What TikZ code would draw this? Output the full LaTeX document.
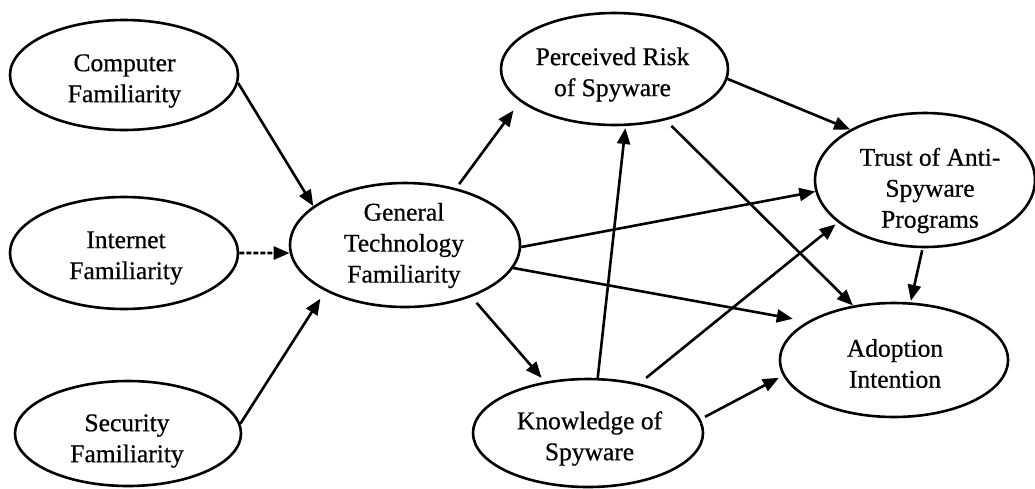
\documentclass[tikz,border=0pt]{standalone}
\usepackage{fontspec}
\setmainfont{Liberation Serif}
\newfontfamily\lblfont[FakeBold=0.6]{Liberation Serif}
\usetikzlibrary{arrows.meta,shapes.geometric}
\begin{document}
\begin{tikzpicture}[x=1pt,y=-1pt,
 ell/.style={draw, ellipse, line width=2.6pt, inner sep=0pt},
 lbl/.style={align=center, font=\lblfont\fontsize{25.5}{31}\selectfont, inner sep=0pt},
 arr/.style={line width=2.6pt, -{Triangle[length=16pt,width=13pt]}}]
\useasboundingbox (0,0) rectangle (1035,488);
% ellipses
\node[ell, minimum width=228pt, minimum height=110pt] (comp) at (124,75) {};
\node[ell, minimum width=228pt, minimum height=112pt] (inet) at (124,253) {};
\node[ell, minimum width=226pt, minimum height=105pt] (sec) at (128,433.5) {};
\node[ell, minimum width=230pt, minimum height=124pt] (gen) at (405,245) {};
\node[ell, minimum width=227pt, minimum height=112pt] (risk) at (614.5,69) {};
\node[ell, minimum width=220pt, minimum height=134pt] (trust) at (925,180) {};
\node[ell, minimum width=228pt, minimum height=114pt] (adopt) at (894,360) {};
\node[ell, minimum width=230pt, minimum height=108pt] (know) at (588,433) {};
% labels
\node[lbl] (compT) at (124.5,81) {Computer\\Familiarity};
\node[lbl] (inetT) at (126,258) {Internet\\Familiarity};
\node[lbl] (secT) at (127,441) {Security\\Familiarity};
\node[lbl] (genT) at (404,245.5) {General\\Technology\\Familiarity};
\node[lbl] (riskT) at (612.5,74.5) {Perceived Risk\\of Spyware};
\node[lbl] (trustT) at (930,190.5) {Trust of Anti-\\Spyware\\Programs};
\node[lbl] (adoptT) at (895,363.5) {Adoption\\Intention};
\node[lbl] (knowT) at (589.5,438.5) {Knowledge of\\Spyware};
% arrows
\draw[arr] (comp.-4.5) -- (gen.157);
\draw[arr, dash pattern=on 5pt off 2pt] (inet.0) -- (gen.184);
\draw[arr, shorten >=9pt] (sec.5) -- (gen.210);
\draw[arr, shorten <=5pt, shorten >=11pt] (gen.48) -- (risk.199);
\draw[arr] (gen.-1) -- (trust.186);
\draw[arr, shorten >=15pt] (gen.-12.5) -- (adopt.156.6);
\draw[arr, shorten <=7.7pt, shorten >=5pt] (gen.-38.3) -- (know.130.4);
\draw[arr, shorten >=2pt] (know.80.5) -- (risk.-79.1);
\draw[arr, shorten <=8.7pt, shorten >=3pt] (know.44.1) -- (trust.206.9);
\draw[arr, shorten <=5pt, shorten >=4.6pt] (know.7.7) -- (adopt.188.9);
\draw[arr] (risk.-5.5) -- (trust.146.7);
\draw[arr, shorten <=8pt] (risk.-45.3) -- (adopt.127.9);
\draw[arr, shorten <=2pt, shorten >=1.5pt] (trust.-92.2) -- (adopt.74.5);
\end{tikzpicture}
\end{document}
